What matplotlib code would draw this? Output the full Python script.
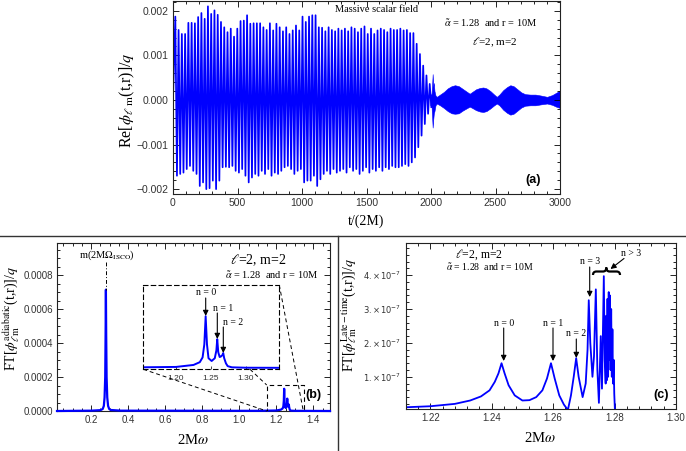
import numpy as np
import matplotlib
matplotlib.use('Agg')
import matplotlib.pyplot as plt
from matplotlib.path import Path
from matplotlib.patches import PathPatch, Rectangle, FancyArrowPatch
from matplotlib.lines import Line2D
from matplotlib.ticker import MultipleLocator, FixedLocator, FuncFormatter

plt.rcParams['font.family'] = ['Liberation Sans', 'DejaVu Sans']
plt.rcParams['mathtext.fontset'] = 'stix'
SERIF = ['Liberation Serif', 'DejaVu Serif']

# ---------------- data: panel (a) ----------------
# successive maxima / minima of the oscillation (units of 1e-3), t from 0 to ~2000
upper_peaks = [1.87, 1.57, 1.48, 1.48, 1.73, 1.73, 1.72, 1.86, 1.95, 1.82, 2.10, 1.93, 2.01, 1.91,
               1.75, 1.63, 1.52, 1.60, 1.42, 1.60, 1.77, 1.78, 1.90, 1.71, 1.72, 1.72, 1.72, 1.63,
               1.57, 1.72, 1.56, 1.71, 1.63, 1.54, 1.63, 1.48, 1.56, 1.67, 1.56, 1.87, 1.75,
               1.87, 1.90, 1.90, 1.63, 1.62, 1.54, 1.63, 1.57, 1.54, 1.60, 1.56, 1.60, 1.54, 1.63,
               1.60, 1.52, 1.60, 1.65, 1.48, 1.60, 1.48, 1.56, 1.60, 1.57, 1.52, 1.60, 1.57, 1.57,
               1.60, 1.56, 1.57, 1.50, 1.50, 1.26, 1.03, 0.77, 0.55, 0.36]
lower_peaks = [-1.70, -1.66, -1.63, -1.55, -1.48, -1.59, -1.66, -1.93, -1.85, -2.00, -1.98, -1.81,
               -2.00, -1.81, -1.51, -1.50, -1.51, -1.48, -1.59, -1.63, -1.55, -1.70, -1.85, -1.74,
               -1.66, -1.70, -1.59, -1.66, -1.55, -1.70, -1.63, -1.66, -1.59, -1.51, -1.48, -1.55,
               -1.66, -1.59, -1.55, -1.85, -1.81,
               -1.81, -1.70, -1.93, -1.78, -1.66, -1.59, -1.66, -1.55, -1.63, -1.59, -1.55, -1.63,
               -1.51, -1.59, -1.55, -1.66, -1.59, -1.51, -1.63, -1.55, -1.59, -1.51, -1.59, -1.51,
               -1.55, -1.48, -1.51, -1.51, -1.48, -1.44, -1.48, -1.40, -1.29, -1.06, -0.80, -0.54,
               -0.31, -0.16]
peak_t_first, peak_t_last = 18.0, 1990.0

# late-time envelope (units of 1e-3)
late_t = [1995, 2003, 2009, 2013, 2017, 2022, 2027, 2035, 2045, 2070, 2100, 2130, 2160, 2186,
          2215, 2245, 2275, 2300, 2320, 2350, 2380, 2405, 2430, 2460, 2490, 2510, 2530, 2560,
          2590, 2615, 2640, 2670, 2700, 2730, 2770, 2810, 2850, 2900, 2940, 2970, 3000]
late_hi = [0.15, 0.08, 0.35, 0.58, 0.30, 0.38, 0.20, 0.10, 0.07, 0.12, 0.18, 0.26, 0.31, 0.33,
           0.31, 0.25, 0.19, 0.14, 0.18, 0.24, 0.27, 0.28, 0.26, 0.20, 0.12, 0.07, 0.12, 0.22,
           0.29, 0.33, 0.31, 0.24, 0.17, 0.13, 0.12, 0.12, 0.10, 0.07, 0.11, 0.16, 0.21]
late_lo = [-0.12, -0.08, -0.40, -0.62, -0.45, -0.30, -0.25, -0.12, -0.08, -0.12, -0.18, -0.25,
           -0.30, -0.31, -0.30, -0.24, -0.19, -0.15, -0.18, -0.23, -0.26, -0.27, -0.25, -0.19,
           -0.12, -0.08, -0.12, -0.22, -0.29, -0.33, -0.31, -0.24, -0.17, -0.13, -0.12, -0.12,
           -0.10, -0.08, -0.11, -0.15, -0.18]

# ---------------- data: panel (b) ----------------
b_omega = [0.015, 0.20, 0.25, 0.262, 0.268, 0.272, 0.2755, 0.2775, 0.2792, 0.2808, 0.283, 0.2865,
           0.291, 0.297, 0.305, 0.36, 1.10, 1.20, 1.225, 1.234, 1.238, 1.2405, 1.2424, 1.2443,
           1.2465, 1.251, 1.2555, 1.2578, 1.259, 1.2605, 1.2625, 1.264, 1.2665, 1.2676, 1.269,
           1.2715, 1.274, 1.28, 1.30, 1.49]
b_ft = [0.0, 0.02, 0.05, 0.12, 0.3, 0.8, 2.0, 4.5, 7.15, 4.5, 2.0, 0.8, 0.3, 0.12, 0.06, 0.02,
        0.01, 0.03, 0.08, 0.15, 0.27, 0.6, 1.31, 0.6, 0.25, 0.18, 0.25, 0.45, 0.73, 0.4, 0.28,
        0.29, 0.33, 0.38, 0.25, 0.12, 0.05, 0.02, 0.01, 0.0]   # units of 1e-4

# ---------------- data: panel (c) ----------------
c_omega = [1.212, 1.220, 1.228, 1.233, 1.2365, 1.2393, 1.241, 1.2422, 1.2432, 1.2442, 1.2455,
           1.2475, 1.250, 1.2523, 1.2545, 1.2565, 1.258, 1.2593, 1.2605, 1.262, 1.2635, 1.2648,
           1.2658, 1.2667, 1.2675, 1.2683, 1.2696, 1.2706, 1.2712, 1.2716, 1.2721, 1.2728,
           1.2733, 1.2739, 1.2744, 1.2749, 1.2755, 1.2759, 1.2765, 1.2768, 1.2771, 1.2773,
           1.2775, 1.2777, 1.2779, 1.2781, 1.2783, 1.2785, 1.2787, 1.2789, 1.2791, 1.2793,
           1.2795, 1.2797, 1.2799, 1.2801, 1.2803, 1.30]
c_ft = [0.10, 0.13, 0.20, 0.30, 0.42, 0.60, 0.85, 1.10, 1.40, 1.10, 0.75, 0.45, 0.30, 0.31,
        0.40, 0.60, 0.95, 1.40, 0.95, 0.45, 0.18, 0.02, 0.45, 1.00, 1.55, 1.00, 0.40, 0.80,
        1.80, 3.26, 2.00, 1.00, 1.60, 3.58, 1.20, 0.23, 2.20, 0.65, 3.97, 1.50, 0.80, 2.80,
        0.90, 3.30, 1.00, 3.50, 1.50, 3.40, 1.20, 3.00, 1.00, 2.40, 0.80, 1.50, 0.50, 0.05,
        0.0, 0.0]   # units of 1e-7
c_yticks = [1e-7, 2e-7, 3e-7, 4e-7]
c_yticklabels = [r'$1.\!\times\!10^{-7}$', r'$2.\!\times\!10^{-7}$',
                 r'$3.\!\times\!10^{-7}$', r'$4.\!\times\!10^{-7}$']

BLUE = '#0000ff'
TICKC = '#333333'

W, H = 686, 451
def fx(x):
    return x / W
def fy(y):
    return 1 - y / H
def rect(l, t, r, b):
    return [fx(l), fy(b), (r - l) / W, (b - t) / H]

fig = plt.figure(figsize=(6.86, 4.51), dpi=100)

def style(ax, xmaj, xmin, ymaj, ymin, lsize=7):
    ax.tick_params(which='both', direction='in', top=True, right=True, width=0.6,
                   labelsize=lsize, labelcolor=TICKC, pad=3)
    ax.tick_params(which='major', length=4)
    ax.tick_params(which='minor', length=2)
    ax.xaxis.set_major_locator(xmaj)
    ax.xaxis.set_minor_locator(xmin)
    ax.yaxis.set_major_locator(ymaj)
    ax.yaxis.set_minor_locator(ymin)
    for s in ax.spines.values():
        s.set_linewidth(0.8)
        s.set_color('#222222')

def farrow(x1, y1, x2, y2):
    fig.add_artist(FancyArrowPatch((fx(x1), fy(y1)), (fx(x2), fy(y2)), transform=fig.transFigure,
                                   arrowstyle='-|>', mutation_scale=8, color='k', lw=0.8,
                                   shrinkA=0, shrinkB=0))

def label_arrow(x, y1, y2, lab, ly, lx=None, fs=7):
    fig.text(fx(lx if lx is not None else x), fy(ly), lab, family=SERIF, fontsize=fs,
             ha='center', va='center')
    farrow(x, y1, x, y2)

# ================= panel (a) =================
axA = fig.add_axes(rect(173, 1, 560, 194))
up = np.array(upper_peaks) * 1e-3
lo = np.array(lower_peaks) * 1e-3
n = len(up)
pt = np.linspace(peak_t_first, peak_t_last, n)
half = (pt[1] - pt[0]) / 2
tz = np.empty(2 * n + 1)
yz = np.empty(2 * n + 1)
tz[0], yz[0] = 0.0, 0.0
tz[1::2], yz[1::2] = pt, up
tz[2::2], yz[2::2] = pt + half, lo
axA.plot(tz, yz, color=BLUE, lw=1.25)
axA.fill_between(np.array(late_t, float), np.array(late_lo) * 1e-3, np.array(late_hi) * 1e-3,
                 color=BLUE, lw=0.4, edgecolor=BLUE)
axA.set_xlim(0, 3000)
axA.set_ylim(-0.00211, 0.00222)
style(axA, MultipleLocator(500), MultipleLocator(100), MultipleLocator(0.001), MultipleLocator(0.0002),
      lsize=7.5)
axA.yaxis.set_major_formatter(FuncFormatter(
    lambda v, p: f'{v:.3f}'.replace('-', '\u2212') if abs(v) > 1e-9 else '0.000'))
axA.xaxis.set_major_formatter(FuncFormatter(lambda v, p: f'{v:.0f}'))

fig.text(fx(377), fy(10), 'Massive scalar field', family=SERIF, fontsize=7.5, ha='center', va='center')
fig.text(fx(491), fy(23), r'$\tilde{\alpha}$ = 1.28  and r = 10M', family=SERIF, fontsize=7.5,
         ha='center', va='center')
fig.text(fx(495), fy(42), r'$\ell$=2, m=2', family=SERIF, fontsize=8, ha='center', va='center')
fig.text(fx(533), fy(180), '(a)', fontsize=9, fontweight='bold', ha='center', va='center')
fig.text(fx(366), fy(221), 't/(2M)', family=SERIF, fontsize=10, ha='center', va='center')
fig.text(fx(127), fy(100), r'Re[$\phi_{\ell\ \mathrm{m}}$(t,r)]/$q$', family=SERIF, fontsize=11.5,
         ha='center', va='center', rotation=90)

# separators
fig.add_artist(Line2D([0, 1], [fy(235.5), fy(235.5)], color='#333333', lw=1.0, transform=fig.transFigure))
fig.add_artist(Line2D([fx(338), fx(338)], [fy(235.5), 0], color='#333333', lw=1.0, transform=fig.transFigure))

# ================= panel (b) =================
axB = fig.add_axes(rect(57, 243, 330, 411))
bw = np.array(b_omega)
bf = np.array(b_ft) * 1e-4
axB.plot(bw, bf, color=BLUE, lw=1.6, clip_on=False, zorder=3)
axB.set_xlim(0.015, 1.49)
axB.set_ylim(0, 0.00099)
style(axB, FixedLocator([0.2, 0.4, 0.6, 0.8, 1.0, 1.2, 1.4]), MultipleLocator(0.05),
      MultipleLocator(0.0002), MultipleLocator(0.00005))
axB.xaxis.set_major_formatter(FuncFormatter(lambda v, p: f'{v:.1f}'))
axB.yaxis.set_major_formatter(FuncFormatter(lambda v, p: f'{v:.4f}'))
ins_x = (1.152, 1.349)
axB.add_patch(Rectangle((ins_x[0], 0), ins_x[1] - ins_x[0], 0.000153, fill=False,
                        ls=(0, (4, 3)), lw=0.8, ec='k', zorder=4))
fig.add_artist(Line2D([fx(106), fx(106)], [fy(262), fy(290)], color='k', lw=0.7,
                      ls=(0, (4, 2, 1, 2)), transform=fig.transFigure))
fig.text(fx(107), fy(255), r'm(2M$\Omega_{\mathrm{ISCO}}$)', family=SERIF, fontsize=7.5,
         ha='center', va='center')
fig.text(fx(258), fy(260), r'$\ell$=2, m=2', family=SERIF, fontsize=10, ha='center', va='center')
fig.text(fx(272), fy(275), r'$\tilde{\alpha}$ = 1.28  and r = 10M', family=SERIF, fontsize=7.5,
         ha='center', va='center')
fig.text(fx(313), fy(395), '(b)', fontsize=9, fontweight='bold', ha='center', va='center')
fig.text(fx(193), fy(440), r'2M$\omega$', family=SERIF, fontsize=10.5, ha='center', va='center')
fig.text(fx(12), fy(318), r'FT[$\phi^{\mathrm{adiabatic}}_{\ell\mathrm{m}}$(t,r)]/$q$', family=SERIF,
         fontsize=10, ha='center', va='center', rotation=90)

# inset
axI = fig.add_axes(rect(143.3, 285, 279.3, 369.3))
axI.plot(bw, bf, color=BLUE, lw=1.4)
axI.set_xlim(1.153, 1.348)
axI.set_ylim(-0.000003, 0.00021)
axI.set_yticks([])
axI.xaxis.set_major_locator(FixedLocator([1.20, 1.25, 1.30]))
axI.xaxis.set_major_formatter(FuncFormatter(lambda v, p: f'{v:.2f}'))
axI.tick_params(axis='x', direction='in', length=2, width=0.5, labelsize=6, labelcolor=TICKC, pad=4)
for s in axI.spines.values():
    s.set_linestyle((0, (4, 3)))
    s.set_linewidth(0.8)
    s.set_color('k')
axI.patch.set_alpha(0)

for (x1, y1, x2, y2) in [(143.3, 369.3, 266.7, 411), (250, 369.3, 266.7, 385), (279.3, 285, 303.3, 411)]:
    fig.add_artist(Line2D([fx(x1), fx(x2)], [fy(y1), fy(y2)], color='k', lw=0.7,
                          ls=(0, (4, 3)), transform=fig.transFigure))

label_arrow(205.7, 298, 316, 'n = 0', 292.5, 206)
label_arrow(217.3, 313, 339, 'n = 1', 308.5, 223)
label_arrow(223.3, 327, 353, 'n = 2', 322.5, 233)

# ================= panel (c) =================
axC = fig.add_axes(rect(405.7, 243.3, 676, 409.3))
axC.plot(np.array(c_omega), np.array(c_ft) * 1e-7, color=BLUE, lw=1.3)
axC.set_xlim(1.212, 1.30)
axC.set_ylim(0.04e-7, 4.94e-7)
style(axC, MultipleLocator(0.02), MultipleLocator(0.004), FixedLocator(c_yticks), MultipleLocator(0.2e-7))
axC.xaxis.set_major_formatter(FuncFormatter(lambda v, p: f'{v:.2f}'))
axC.set_yticks(c_yticks, labels=c_yticklabels, math_fontfamily='dejavusans', fontsize=6)
fig.text(fx(479), fy(254.5), r'$\ell$=2, m=2', family=SERIF, fontsize=8.5, ha='center', va='center')
fig.text(fx(490), fy(267), r'$\tilde{\alpha}$ = 1.28  and r = 10M', family=SERIF, fontsize=7,
         ha='center', va='center')
fig.text(fx(661), fy(395), '(c)', fontsize=9, fontweight='bold', ha='center', va='center')
fig.text(fx(540), fy(438), r'2M$\omega$', family=SERIF, fontsize=10.5, ha='center', va='center')
fig.text(fx(349), fy(315), r'FT[$\phi^{\mathrm{Late-time}}_{\ell\mathrm{m}}$(t,r)]/$q$', family=SERIF,
         fontsize=10, ha='center', va='center', rotation=90)

label_arrow(503.7, 328, 361, 'n = 0', 323)
label_arrow(553, 328, 361, 'n = 1', 323)
label_arrow(576.3, 339, 358, 'n = 2', 334)
label_arrow(589.7, 267, 297, 'n = 3', 261.5)

# brace
bp = [(593, 275), (593, 271.5), (596.5, 271.5), (603, 271.5), (606.3, 271.5), (606.3, 267.5),
      (606.3, 271.5), (609.6, 271.5), (616.5, 271.5), (620, 271.5), (620, 275)]
codes = [Path.MOVETO, Path.CURVE3, Path.CURVE3, Path.LINETO, Path.CURVE3, Path.CURVE3,
         Path.CURVE3, Path.CURVE3, Path.LINETO, Path.CURVE3, Path.CURVE3]
verts = [(fx(x), fy(y)) for x, y in bp]
fig.add_artist(PathPatch(Path(verts, codes), fill=False, lw=1.6, ec='k', transform=fig.transFigure))
fig.text(fx(631), fy(253), 'n > 3', family=SERIF, fontsize=7, ha='center', va='center')
farrow(624, 258.5, 610.5, 269)

fig.savefig('out.png', dpi=100)
